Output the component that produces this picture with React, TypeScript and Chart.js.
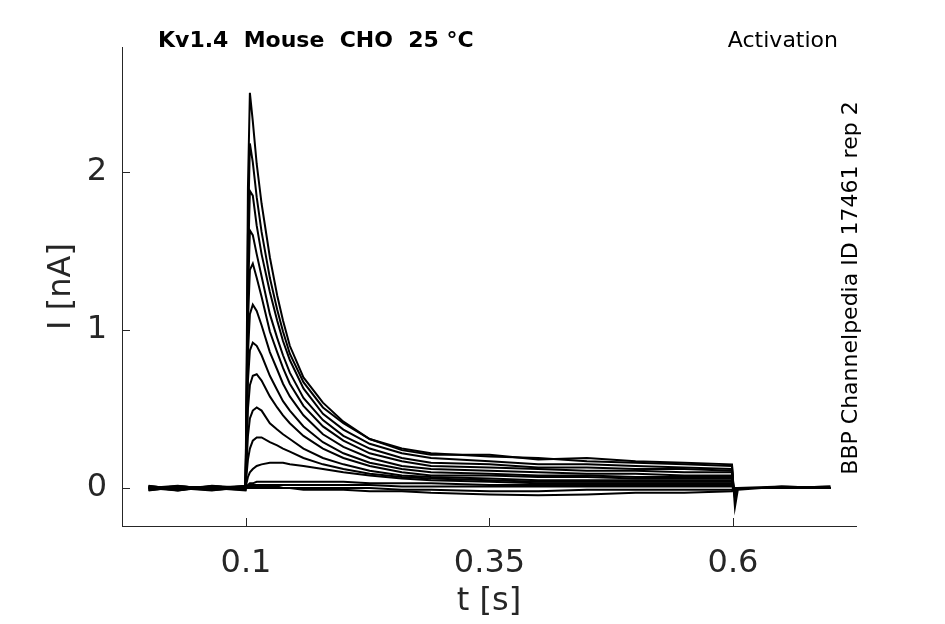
import { useEffect, useRef } from "react";
import { Chart, registerables } from "chart.js";

Chart.register(...registerables);

// sample times [s]
const times = [
  0, 0.03, 0.065, 0.0995, 0.1005, 0.102, 0.104, 0.107, 0.111, 0.116, 0.1245, 0.132, 0.138, 0.145, 0.159, 0.179,
  0.2, 0.227, 0.26, 0.29, 0.35, 0.4, 0.45, 0.5, 0.55, 0.599, 0.6005, 0.602, 0.605, 0.65, 0.7,
];

// current traces [nA], one per voltage step
const trace1 = [0.015, -0.01, 0.01, 0, 0.6, 1.9, 2.5, 2.32, 2.05, 1.8, 1.46, 1.22, 1.06, 0.9, 0.7, 0.54, 0.42, 0.31, 0.24, 0.21, 0.21, 0.18, 0.19, 0.17, 0.16, 0.15, 0.01, -0.12, -0.01, 0.01, 0];
const trace2 = [-0.015, 0.01, 0, 0.01, 0.5, 1.6, 2.18, 2.06, 1.84, 1.62, 1.33, 1.13, 0.99, 0.85, 0.67, 0.51, 0.41, 0.31, 0.25, 0.22, 0.2, 0.19, 0.17, 0.16, 0.15, 0.14, 0, -0.06, 0, 0, 0.01];
const trace3 = [0, 0.015, -0.01, 0, 0.45, 1.4, 1.88, 1.85, 1.66, 1.48, 1.24, 1.06, 0.93, 0.81, 0.63, 0.47, 0.37, 0.28, 0.22, 0.19, 0.17, 0.15, 0.15, 0.14, 0.13, 0.12, 0.01, -0.04, 0, 0, 0];
const trace4 = [0.01, -0.015, 0.01, -0.01, 0.4, 1.2, 1.63, 1.6, 1.48, 1.34, 1.1, 0.95, 0.84, 0.73, 0.57, 0.43, 0.33, 0.25, 0.19, 0.16, 0.15, 0.13, 0.13, 0.12, 0.12, 0.11, 0, -0.03, 0, 0.01, 0];
const trace5 = [-0.01, 0.01, 0, 0.015, 0.35, 1.05, 1.38, 1.42, 1.33, 1.21, 0.99, 0.86, 0.76, 0.66, 0.52, 0.39, 0.3, 0.22, 0.17, 0.14, 0.13, 0.12, 0.11, 0.11, 0.1, 0.1, 0, -0.02, 0, 0, 0];
const trace6 = [0, -0.015, 0.015, 0, 0.3, 0.85, 1.1, 1.16, 1.12, 1.03, 0.86, 0.75, 0.66, 0.58, 0.46, 0.34, 0.26, 0.19, 0.14, 0.12, 0.11, 0.1, 0.09, 0.09, 0.08, 0.08, 0, -0.02, 0, 0, 0];
const trace7 = [0.01, 0, -0.015, 0.01, 0.25, 0.68, 0.87, 0.92, 0.9, 0.84, 0.71, 0.62, 0.55, 0.49, 0.39, 0.29, 0.22, 0.16, 0.12, 0.1, 0.09, 0.08, 0.08, 0.07, 0.07, 0.07, 0, -0.01, 0, 0, 0.01];
const trace8 = [0, 0.01, 0, -0.015, 0.2, 0.5, 0.65, 0.71, 0.72, 0.68, 0.58, 0.51, 0.46, 0.41, 0.33, 0.25, 0.19, 0.14, 0.1, 0.08, 0.08, 0.07, 0.07, 0.06, 0.06, 0.06, 0, -0.01, 0, 0, 0];
const trace9 = [-0.01, 0, 0.01, 0, 0.15, 0.33, 0.44, 0.49, 0.51, 0.49, 0.41, 0.37, 0.34, 0.31, 0.25, 0.19, 0.15, 0.11, 0.08, 0.07, 0.06, 0.05, 0.05, 0.05, 0.05, 0.05, 0, 0, 0, 0, 0];
const trace10 = [0, 0.01, 0, 0.01, 0.08, 0.18, 0.25, 0.3, 0.32, 0.32, 0.29, 0.27, 0.25, 0.23, 0.19, 0.15, 0.12, 0.09, 0.07, 0.06, 0.05, 0.04, 0.04, 0.04, 0.04, 0.04, 0, 0, 0, 0, 0];
const trace11 = [0.01, 0, 0, -0.01, 0.03, 0.07, 0.1, 0.12, 0.14, 0.15, 0.16, 0.16, 0.16, 0.15, 0.14, 0.12, 0.1, 0.08, 0.06, 0.05, 0.04, 0.03, 0.03, 0.03, 0.03, 0.03, 0, 0, 0, 0, 0];
const trace12 = [0, -0.01, 0.01, 0, 0.01, 0.02, 0.03, 0.03, 0.04, 0.04, 0.04, 0.04, 0.04, 0.04, 0.04, 0.04, 0.04, 0.03, 0.03, 0.03, 0.02, 0.02, 0.02, 0.02, 0.02, 0.02, 0, 0, 0, 0, 0];
const trace13 = [-0.01, 0, -0.01, 0, 0.01, 0.01, 0.02, 0.02, 0.02, 0.02, 0.02, 0.02, 0.02, 0.02, 0.02, 0.02, 0.02, 0.02, 0.01, 0.01, 0.01, 0.01, 0.01, 0.01, 0.01, 0.01, 0, 0, 0, 0, 0];
const trace14 = [0.01, 0, 0.01, 0, 0, 0, 0.01, 0.01, 0.01, 0.01, 0.01, 0.01, 0, 0, 0, 0, 0, 0, -0.01, -0.01, -0.02, -0.02, -0.01, -0.01, -0.01, -0.01, 0, 0, 0, 0, 0];
const trace15 = [0, 0, 0, 0, 0, 0, 0, 0, 0, 0, 0, 0, 0, 0, -0.01, -0.01, -0.01, -0.02, -0.02, -0.03, -0.04, -0.045, -0.04, -0.03, -0.03, -0.02, 0, 0, 0, 0, 0];

const traces = [trace1, trace2, trace3, trace4, trace5, trace6, trace7, trace8, trace9, trace10, trace11, trace12, trace13, trace14, trace15];

const xTicks = [0.1, 0.35, 0.6];
const yTicks = [0, 1, 2];

const FONT = "'DejaVu Sans', sans-serif";
const AXIS_COLOR = "#262626";

const textPlugin = {
  id: "textPlugin",
  afterDraw(chart: Chart) {
    const { ctx } = chart;
    const x = chart.scales.x;
    const y = chart.scales.y;
    ctx.save();

    // inward tick marks
    ctx.strokeStyle = AXIS_COLOR;
    ctx.lineWidth = 1;
    ctx.beginPath();
    xTicks.forEach((v) => {
      const px = Math.round(x.getPixelForValue(v)) + 0.5;
      ctx.moveTo(px, x.top);
      ctx.lineTo(px, x.top - 8);
    });
    yTicks.forEach((v) => {
      const py = Math.round(y.getPixelForValue(v)) + 0.5;
      ctx.moveTo(y.right, py);
      ctx.lineTo(y.right + 8, py);
    });
    ctx.stroke();

    // header texts
    ctx.fillStyle = "#000";
    ctx.textBaseline = "alphabetic";
    ctx.font = `bold 22px ${FONT}`;
    ctx.textAlign = "left";
    ctx.fillText("Kv1.4  Mouse  CHO  25 °C", 158, 47);
    ctx.font = `22px ${FONT}`;
    ctx.textAlign = "right";
    ctx.fillText("Activation", 838, 47);

    // side note
    ctx.translate(857, 288);
    ctx.rotate(-Math.PI / 2);
    ctx.textAlign = "center";
    ctx.font = `22px ${FONT}`;
    ctx.fillText("BBP Channelpedia ID 17461 rep 2", 0, 0);
    ctx.restore();
  },
};

export default function App() {
  const chartRef = useRef<HTMLCanvasElement | null>(null);
  const chartInstance = useRef<Chart | null>(null);

  useEffect(() => {
    if (!chartRef.current) return;
    if (chartInstance.current) chartInstance.current.destroy();

    const ctx = chartRef.current.getContext("2d");
    if (!ctx) return;

    chartInstance.current = new Chart(ctx, {
      type: "line",
      data: {
        datasets: traces.map((tr, i) => ({
          label: `trace ${i + 1}`,
          data: times.map((t, j) => ({ x: t, y: tr[j] })),
          borderColor: "#000",
          borderWidth: 2,
          pointRadius: 0,
          tension: 0,
          fill: false,
        })),
      },
      options: {
        responsive: false,
        animation: false,
        layout: { padding: { left: 0, top: 47, right: 89, bottom: 0 } },
        plugins: {
          legend: { display: false },
          tooltip: { enabled: false },
        },
        scales: {
          x: {
            type: "linear",
            min: -0.0273,
            max: 0.7263,
            afterBuildTicks: (scale: any) => {
              scale.ticks = xTicks.map((v) => ({ value: v }));
            },
            afterFit: (scale: any) => {
              scale.height = 98;
            },
            grid: { display: false, drawTicks: false },
            border: { display: true, color: AXIS_COLOR, width: 1 },
            ticks: {
              color: AXIS_COLOR,
              font: { family: FONT, size: 32 },
              padding: 18,
              maxRotation: 0,
              callback: (v: any) => String(v),
            },
            title: {
              display: true,
              text: "t [s]",
              color: AXIS_COLOR,
              font: { family: FONT, size: 32 },
              padding: { top: 0, bottom: 3 },
            },
          },
          y: {
            type: "linear",
            min: -0.24,
            max: 2.79,
            afterBuildTicks: (scale: any) => {
              scale.ticks = yTicks.map((v) => ({ value: v }));
            },
            afterFit: (scale: any) => {
              scale.width = 122;
            },
            grid: { display: false, drawTicks: false },
            border: { display: true, color: AXIS_COLOR, width: 1 },
            ticks: {
              color: AXIS_COLOR,
              font: { family: FONT, size: 32 },
              padding: 15,
              callback: (v: any) => String(v),
            },
            title: {
              display: true,
              text: "I [nA]",
              color: AXIS_COLOR,
              font: { family: FONT, size: 32 },
              padding: { top: 42, bottom: 0 },
            },
          },
        },
      },
      plugins: [textPlugin],
    });

    return () => {
      if (chartInstance.current) {
        chartInstance.current.destroy();
        chartInstance.current = null;
      }
    };
  }, []);

  return (
    <div style={{ position: "fixed", left: 0, top: 0, width: 945, height: 624, background: "#fff" }}>
      <canvas ref={chartRef} width={945} height={624} />
    </div>
  );
}
